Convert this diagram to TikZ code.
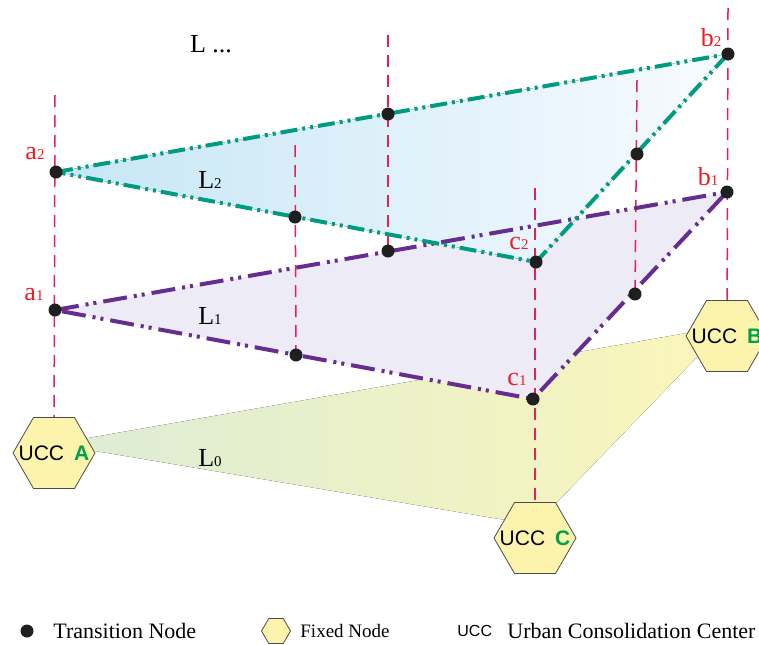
\documentclass[tikz,border=0pt]{standalone}
\usepackage{fontspec}
\setmainfont{Liberation Serif}
\setsansfont{Liberation Sans}
\usetikzlibrary{shapes.geometric,backgrounds}
\definecolor{linkred}{RGB}{232,30,86}
\definecolor{tagred}{RGB}{236,28,36}
\definecolor{teallink}{RGB}{0,155,128}
\definecolor{purplelink}{RGB}{102,45,145}
\definecolor{uccgreen}{RGB}{0,160,75}
\definecolor{hexfill}{RGB}{252,244,172}
\definecolor{ltwoleft}{RGB}{198,230,246}
\definecolor{ltworight}{RGB}{247,251,254}
\definecolor{lonefill}{RGB}{236,235,246}
\definecolor{lzeroleft}{RGB}{220,236,214}
\definecolor{lzeroright}{RGB}{251,246,186}
\newcommand{\idx}[1]{{\fontsize{7.5}{7.5}\selectfont #1}}
\newcommand{\ucc}[1]{UCC\hspace{5pt}\textcolor{uccgreen}{\bfseries #1}}
\tikzset{
  tnode/.style={circle,fill=black!88,inner sep=0pt,minimum size=6.5pt},
  fixnode/.style={regular polygon,regular polygon sides=6,draw=black!70,line width=0.4pt,
    fill=hexfill,inner sep=0pt,minimum size=41pt},
  ucctext/.style={font=\sffamily\fontsize{10.5}{10.5}\selectfont,inner sep=0pt},
  vlink/.style={linkred,line width=0.75pt,dash pattern=on 6pt off 4pt},
  edgetwo/.style={teallink,line width=2pt,dash pattern=on 8.5pt off 2.5pt on 1.5pt off 2.5pt on 1.5pt off 2.5pt},
  edgeone/.style={purplelink,line width=2pt,dash pattern=on 12pt off 3.5pt on 1.5pt off 2.5pt on 1.5pt off 3.5pt},
  tagtext/.style={text=tagred,font=\fontsize{13}{13}\selectfont,inner sep=0pt},
  layertext/.style={font=\fontsize{13}{13}\selectfont,inner sep=0pt},
  legendtext/.style={font=\fontsize{11}{11}\selectfont,anchor=west,inner sep=0pt}
}
\begin{document}
\begin{tikzpicture}[x=0.5pt,y=-0.5pt]
\useasboundingbox (0,0) rectangle (759,644);
% transition nodes, layer 2
\node[tnode] (a2) at (56,172) {};
\node[tnode] (b2) at (728,54) {};
\node[tnode] (c2) at (536,262) {};
\node[tnode] (m2ab) at (388,114) {};
\node[tnode] (m2ac) at (295,217) {};
\node[tnode] (m2bc) at (637,154) {};
% transition nodes, layer 1
\node[tnode] (a1) at (55,310) {};
\node[tnode] (b1) at (727,192) {};
\node[tnode] (c1) at (533,399) {};
\node[tnode] (m1ab) at (388,251) {};
\node[tnode] (m1ac) at (296,355) {};
\node[tnode] (m1bc) at (635,294) {};
% fixed nodes
\node[fixnode,label={[ucctext]center:\ucc{A}}] (ucca) at (54,453) {};
\node[fixnode,label={[ucctext]center:\ucc{B}}] (uccb) at (727,336) {};
\node[fixnode,label={[ucctext]center:\ucc{C}}] (uccc) at (535,538) {};
% free ends of the vertical links
\coordinate (ta) at (55,95);
\coordinate (tb) at (728,8);
\coordinate (tc) at (535,188);
\coordinate (tab) at (388,35);
\coordinate (tac) at (295,145);
\coordinate (tbc) at (637,80);
\coordinate (lza) at (54,444);
\coordinate (lzb) at (727,326);
\coordinate (lzc) at (535,525);
\begin{scope}[on background layer]
\fill[left color=lzeroleft,right color=lzeroright] (lza) -- (lzb) -- (lzc) -- cycle;
\fill[lonefill] (a1.center) -- (b1.center) -- (c1.center) -- cycle;
\fill[left color=ltwoleft,right color=ltworight] (a2.center) -- (b2.center) -- (c2.center) -- cycle;
\draw[vlink] (ta) -- (ucca.center);
\draw[vlink] (tb) -- (uccb.center);
\draw[vlink] (tc) -- (uccc.center);
\draw[vlink] (tab) -- (m1ab.center);
\draw[vlink] (tac) -- (m1ac.center);
\draw[vlink] (tbc) -- (m1bc.center);
\draw[edgeone] (a1.center) -- (b1.center) -- (c1.center) -- cycle;
\draw[edgetwo] (a2.center) -- (b2.center) -- (c2.center) -- cycle;
\end{scope}
% node tags
\node[tagtext] (a2tag) at (35,154) {a\idx{2}};
\node[tagtext] (a1tag) at (34,295) {a\idx{1}};
\node[tagtext] (b2tag) at (711,38) {b\idx{2}};
\node[tagtext] (b1tag) at (708,177) {b\idx{1}};
\node[tagtext] (c2tag) at (519,243) {c\idx{2}};
\node[tagtext] (c1tag) at (517,379) {c\idx{1}};
% layers
\node[layertext] (ldots) at (211,44) {L ...};
\node[layertext] (ltwo) at (210,180) {L\idx{2}};
\node[layertext] (lone) at (210,316) {L\idx{1}};
\node[layertext] (lzero) at (210,458) {L\idx{0}};
% legend
\node[tnode] (keydot) at (27,631) {};
\node[legendtext] (keydottxt) at (53,631) {Transition Node};
\node[fixnode,minimum size=14.5pt] (keyhex) at (276,631) {};
\node[legendtext,font=\fontsize{9.5}{9.5}\selectfont] (keyhextxt) at (300,631) {Fixed Node};
\node[legendtext,font=\sffamily\fontsize{8}{8}\selectfont] (keyucc) at (457,631) {UCC};
\node[legendtext] (keyucctxt) at (507,631) {Urban Consolidation Center};
\end{tikzpicture}
\end{document}
